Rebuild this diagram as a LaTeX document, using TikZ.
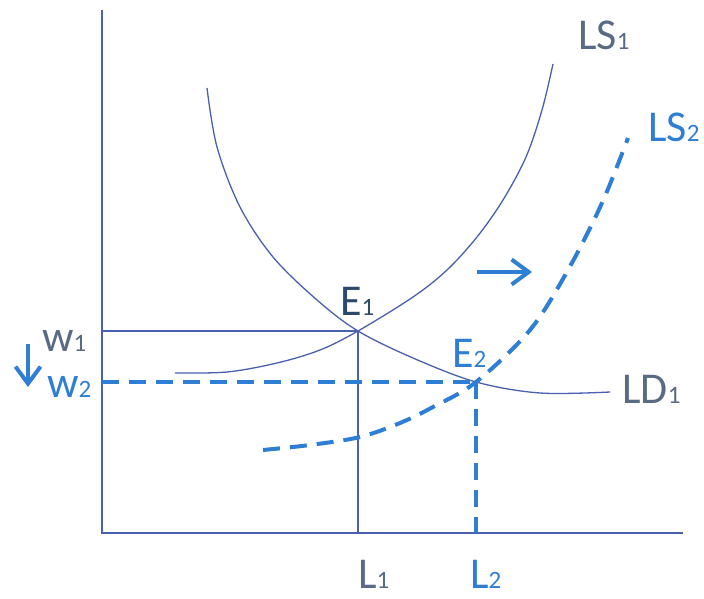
\documentclass[tikz,border=0pt]{standalone}
\usepackage{fontspec}
\setmainfont{Carlito}
\usetikzlibrary{arrows.meta}
\definecolor{axisblue}{HTML}{4A5FAE}
\definecolor{dashblue}{HTML}{2E7ED6}
\definecolor{slate}{HTML}{596A84}
\definecolor{navy}{HTML}{2C4A6C}
\newcommand{\mylab}[2]{{\fontsize{44}{48}\selectfont #1}{\fontsize{25}{28}\selectfont #2}}
\begin{document}
\begin{tikzpicture}[x=1pt,y=-1pt,
  thin line/.style={draw=axisblue,line width=1.3pt},
  dash line/.style={draw=dashblue,line width=4pt,dash pattern=on 17pt off 10pt},
  lab/.style={anchor=base west,inner sep=0pt},
  shiftarrow/.style={draw=dashblue,line width=4pt,-{Straight Barb[length=17pt,width=25pt,line width=4pt]}}]
\useasboundingbox (0,0) rectangle (704,599);
% key points
\coordinate (O) at (102,533);
\coordinate (ytop) at (102,10);
\coordinate (xend) at (683,533);
\coordinate (E1) at (358,331);
\coordinate (E2) at (476,382);
\coordinate (w1) at (102,331);
\coordinate (w2) at (102,382);
\coordinate (L1) at (358,533);
\coordinate (L2) at (476,533);
% axes
\draw[thin line] (ytop) -- (O) -- (xend);
% LD1
\draw[thin line] plot[smooth,tension=0.55] coordinates {(207,88) (217,147) (240,207) (273,257) (317,300) (E1) (413,358) (E2) (540,393) (610,392)};
% LS1
\draw[thin line] plot[smooth,tension=0.55] coordinates {(175,373) (227,372) (277,363) (320,350) (E1) (413,297) (447,270) (477,237) (503,200) (526,157) (542,110) (553,64)};
% guide lines w1/L1
\draw[thin line] (w1) -- (E1) -- (L1);
% LS2
\draw[dash line] plot[smooth,tension=0.55] coordinates {(263,450) (310,445) (360,437) (400,423) (433,407) (E2) (530,330) (568,270) (602,203) (628,138)};
% guide lines w2/L2
\draw[dash line] (w2) -- (E2);
\draw[dash line] (E2) -- (L2);
% arrows
\coordinate (ra1) at (477,272);
\coordinate (ra2) at (532,272);
\draw[shiftarrow] (ra1) -- (ra2);
\coordinate (da1) at (28,344);
\coordinate (da2) at (28,387);
\draw[shiftarrow] (da1) -- (da2);
% labels
\node[lab,text=slate] (tLS1) at (578,50) {\mylab{LS}{1}};
\node[lab,text=dashblue] (tLS2) at (648,142) {\mylab{LS}{2}};
\node[lab,text=navy] (tE1) at (340,315) {\mylab{E}{1}};
\node[lab,text=dashblue] (tE2) at (452,367) {\mylab{E}{2}};
\node[lab,text=slate] (tLD1) at (622,403) {\mylab{LD}{1}};
\node[lab,text=slate] (tw1) at (42,351) {\mylab{w}{1}};
\node[lab,text=dashblue] (tw2) at (47,397) {\mylab{w}{2}};
\node[lab,text=slate] (tL1) at (358,588) {\mylab{L}{1}};
\node[lab,text=dashblue] (tL2) at (470,588) {\mylab{L}{2}};
\end{tikzpicture}
\end{document}
